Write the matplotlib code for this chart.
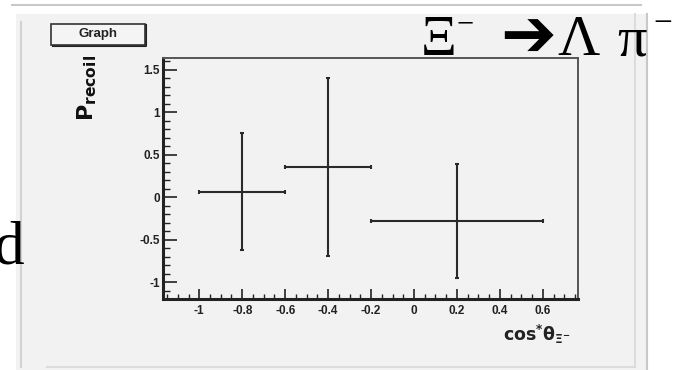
import matplotlib
matplotlib.use("Agg")
import matplotlib.pyplot as plt
from matplotlib.patches import Rectangle
from matplotlib.lines import Line2D
from matplotlib.ticker import MultipleLocator

# measured recoil polarisation in three cos* bins
cos_center = [-0.8, -0.4, 0.2]
cos_halfwidth = [0.2, 0.2, 0.4]
p_recoil = [0.066, 0.36, -0.28]
p_err = [0.69, 1.05, 0.67]

xticks = [-1, -0.8, -0.6, -0.4, -0.2, 0, 0.2, 0.4, 0.6]
xtick_labels = ["-1", "-0.8", "-0.6", "-0.4", "-0.2", "0", "0.2", "0.4", "0.6"]
yticks = [-1, -0.5, 0, 0.5, 1, 1.5]
ytick_labels = ["-1", "-0.5", "0", "0.5", "1", "1.5"]

W, H = 681, 370
fig = plt.figure(figsize=(W / 100, H / 100), dpi=100, facecolor="white")


def fx(px):
    return px / W


def fy(py):
    return 1 - py / H


# canvas chrome (screenshot of a ROOT canvas on a slide)
fig.patches.append(Rectangle((fx(16), 0), fx(632), fy(14), transform=fig.transFigure,
                             facecolor="#f2f2f2", edgecolor="none", zorder=-5))
for (x0, y0, x1, y1, c) in [(12, 5, 641, 5, "#c8c8c8"),
                            (21, 22, 21, 367, "#d2d2d2"),
                            (635, 14, 635, 367, "#dcdcdc"),
                            (647, 14, 647, 370, "#c8c8c8"),
                            (47, 367, 635, 367, "#dcdcdc")]:
    fig.lines.append(Line2D([fx(x0), fx(x1)], [fy(y0), fy(y1)], transform=fig.transFigure,
                            color=c, lw=1.5, zorder=-4))

# "Graph" title box
fig.patches.append(Rectangle((fx(51), fy(45)), fx(94), 21 / H, transform=fig.transFigure,
                             facecolor="#f4f4f4", edgecolor="#333333", lw=1.2, zorder=2))
fig.lines.append(Line2D([fx(53), fx(146), fx(146)], [fy(46), fy(46), fy(25)],
                        transform=fig.transFigure, color="#222222", lw=1.5, zorder=2))
fig.text(fx(98), fy(34.5), "Graph", ha="center", va="center", fontsize=9.5,
         family="Liberation Sans", fontweight="bold", color="#222222")

ax = fig.add_axes([fx(163), fy(299), fx(578 - 163), (299 - 58) / H])
ax.set_zorder(5)
ax.set_facecolor("#f2f2f2")
ax.errorbar(cos_center, p_recoil, xerr=cos_halfwidth, yerr=p_err, fmt="none",
            ecolor="#2a2a2a", elinewidth=1.5, capsize=1.2, capthick=1.5)
ax.set_xlim(-1.169, 0.764)
ax.set_ylim(-1.2, 1.64)

ax.set_xticks(xticks)
ax.set_xticklabels(xtick_labels)
ax.set_yticks(yticks)
ax.set_yticklabels(ytick_labels)
ax.xaxis.set_minor_locator(MultipleLocator(0.05))
ax.yaxis.set_minor_locator(MultipleLocator(0.1))
ax.tick_params(axis="both", which="both", direction="in", color="#222222",
               top=False, right=False)
ax.tick_params(axis="x", which="major", length=7, width=1.2, pad=4)
ax.tick_params(axis="x", which="minor", length=3.5, width=1.0)
ax.tick_params(axis="y", which="major", length=10, width=1.2, pad=2)
ax.tick_params(axis="y", which="minor", length=5, width=1.0)
for lab in ax.get_xticklabels() + ax.get_yticklabels():
    lab.set_fontsize(8.5)
    lab.set_fontweight("bold")
    lab.set_family("Liberation Sans")
    lab.set_color("#222222")
for side in ["left", "bottom"]:
    ax.spines[side].set_linewidth(2.2)
    ax.spines[side].set_color("#222222")
for side in ["top", "right"]:
    ax.spines[side].set_linewidth(1.4)
    ax.spines[side].set_color("#555555")

# axis titles
fig.text(fx(87), fy(88), r"$\mathbf{P}_{\mathbf{recoil}}$", rotation=90,
         ha="center", va="center", fontsize=16, color="#111111")
fig.text(fx(537), fy(334), r"$\mathbf{cos^{*}\theta_{\Xi^{-}}}$",
         ha="center", va="center", fontsize=12.5, color="#222222")

# slide text around the canvas
serif = ["Liberation Serif", "DejaVu Serif"]
fig.text(fx(-6), fy(263), "d", fontsize=44, family=serif, color="black", va="baseline")
fig.text(fx(421), fy(55), "\u039e", fontsize=40, family=serif, va="baseline")
fig.text(fx(456), fy(32), "\u2212", fontsize=22, family=serif, va="baseline")
fig.text(fx(500), fy(56), "\u2794", fontsize=48, family=["DejaVu Sans"], va="baseline",
         fontweight="bold")
fig.text(fx(557), fy(55), "\u039b", fontsize=42, family=serif, va="baseline")
fig.text(fx(617), fy(55), "\u03c0", fontsize=42, family=serif, va="baseline")
fig.text(fx(653), fy(32), "\u2212", fontsize=24, family=serif, va="baseline")

fig.savefig("out.png", dpi=100, facecolor="white")
